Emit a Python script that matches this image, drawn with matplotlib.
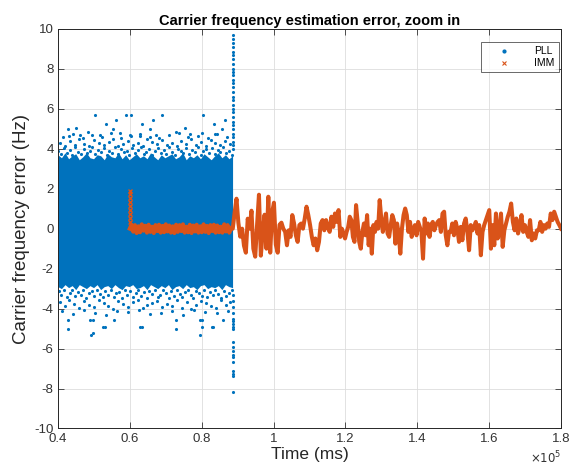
import matplotlib.pyplot as plt
import numpy as np
from matplotlib.lines import Line2D

plt.rcParams['font.family'] = ['Liberation Sans', 'DejaVu Sans']
plt.rcParams['axes.unicode_minus'] = False

blue = '#0072BD'
orange = '#D95319'

# time axis is in units of 1e5 ms
# PLL: the dense core is read as an envelope, the edge dots as rows, plus lone outliers
pll_start, pll_end = 0.40, 0.886
core_top = [3.7, 3.55, 3.8, 3.5, 3.65, 3.75, 3.45, 3.6, 3.8, 3.55, 3.5, 3.7, 3.65, 3.45, 3.75, 3.6,
            3.55, 3.8, 3.5, 3.7, 3.45, 3.6, 3.75, 3.55, 3.65, 3.5, 3.8, 3.6, 3.45, 3.7, 3.55, 3.65,
            3.75, 3.5, 3.6, 3.8, 3.45, 3.65, 3.55, 3.7, 3.5, 3.75, 3.6, 3.45, 3.65, 3.8, 3.55, 3.7,
            3.5, 3.65]
core_bot = [-2.9, -3.0, -2.8, -2.95, -2.85, -3.05, -2.8, -2.9, -3.0, -2.85, -2.95, -2.8, -3.05,
            -2.9, -2.85, -3.0, -2.8, -2.95, -3.05, -2.85, -2.9, -2.8, -3.0, -2.95, -2.85, -3.05,
            -2.8, -2.9, -3.0, -2.85, -2.95, -2.8, -3.05, -2.9, -2.85, -3.0, -2.8, -2.95, -2.9,
            -3.05, -2.85, -2.8, -3.0, -2.9, -2.95, -2.85, -3.05, -2.8, -2.9, -2.95]
fringe_hi = [3.9, 3.75, 4.05, 3.8, 3.95, 3.7, 4.1, 3.85, 3.75, 4.0, 3.8, 3.9, 4.1, 3.75, 3.95, 3.85,
             4.05, 3.7, 3.9, 3.8, 4.1, 3.75, 4.0, 3.85, 3.9, 3.7, 4.05, 3.8, 3.95, 4.1, 3.75, 3.85,
             4.0, 3.7, 3.9, 4.05, 3.8, 3.95, 3.75, 4.1, 3.85, 3.7, 4.0, 3.9, 3.8, 4.05, 3.75, 3.95,
             3.85, 4.1, 3.7, 3.9, 4.0, 3.8, 4.05, 3.75, 3.95, 3.85, 4.1, 3.8, 3.9, 3.7]
fringe_hi2 = [4.3, 4.15, 4.4, 4.2, 4.5, 4.25, 4.15, 4.45, 4.3, 4.2, 4.35, 4.5, 4.15, 4.25, 4.4,
              4.2, 4.3, 4.15, 4.5, 4.35, 4.25, 4.45, 4.2, 4.3, 4.15, 4.4, 4.25, 4.5, 4.2, 4.35,
              4.15, 4.45, 4.3, 4.2, 4.4, 4.25]
fringe_hi3 = [4.6, 4.75, 4.55, 4.7, 4.6, 4.8, 4.55, 4.65, 4.75, 4.6, 4.55, 4.7, 4.8, 4.6, 4.65,
              4.55, 4.75, 4.6]
fringe_lo = [-3.1, -3.3, -3.05, -3.4, -3.2, -3.05, -3.35, -3.15, -3.3, -3.05, -3.45, -3.2, -3.1,
             -3.35, -3.05, -3.25, -3.4, -3.1, -3.3, -3.05, -3.4, -3.2, -3.15, -3.45, -3.05, -3.3,
             -3.1, -3.4, -3.2, -3.05, -3.35, -3.15, -3.45, -3.1, -3.25, -3.05, -3.4, -3.3, -3.05,
             -3.2, -3.45, -3.1, -3.35, -3.05, -3.25, -3.4, -3.15, -3.05, -3.3, -3.45, -3.1, -3.2,
             -3.35, -3.05, -3.4, -3.15, -3.3, -3.05, -3.25, -3.45, -3.1, -3.35, -3.2, -3.05]
fringe_lo2 = [-3.65, -3.85, -3.55, -3.75, -3.95, -3.6, -3.8, -3.9, -3.55, -3.7, -3.85, -4.0,
              -3.6, -3.75, -3.9, -3.65, -3.55, -3.95, -3.8, -3.7, -3.6, -3.9, -3.75, -3.85,
              -3.55, -3.95, -3.65, -4.0, -3.8, -3.6, -3.7, -3.85, -3.95, -3.55, -3.8, -3.65]
fringe_lo3 = [-4.1, -4.25, -4.05, -4.2, -4.3, -4.1, -4.15, -4.05, -4.25, -4.2, -4.1, -4.3, -4.05,
              -4.15, -4.2, -4.1]
out_t = [0.502, 0.589, 0.603, 0.691, 0.805, 0.535, 0.635, 0.835, 0.563, 0.665, 0.865,
         0.429, 0.451, 0.553, 0.656, 0.753, 0.856,
         0.430, 0.461, 0.484, 0.516, 0.572, 0.600, 0.628, 0.674, 0.730, 0.767, 0.800, 0.837,
         0.428, 0.428, 0.488, 0.498, 0.493, 0.498, 0.526, 0.530, 0.555, 0.628, 0.633, 0.728,
         0.728, 0.795, 0.800, 0.800, 0.795, 0.828, 0.832, 0.860]
out_y = [5.67, 5.67, 5.67, 5.67, 5.67, 5.25, 5.25, 5.25, 5.45, 5.45, 5.45,
         5.0, 5.05, 5.0, 5.0, 5.05, 5.0,
         4.65, 4.7, 4.85, 4.7, 4.8, 4.7, 4.65, 4.7, 4.85, 4.75, 4.8, 4.75,
         -4.56, -5.02, -4.56, -4.56, -5.32, -5.2, -4.9, -4.9, -4.56, -4.9, -4.9, -4.56,
         -5.02, -4.56, -4.56, -4.9, -5.32, -4.9, -4.9, -4.56]
spike_y = [9.7, 9.5, 9.3, 9.1, 8.85, 8.7, 8.5, 8.25, 8.0, 7.85, 7.7, 7.45, 7.3, 7.1, 6.85, 6.6,
           6.45, 6.2, 6.0, 5.85, 5.6, 5.35, 5.2, 5.0, 4.75, 4.6, 4.35, 4.2, 4.0,
           -3.3, -3.6, -3.9, -4.2, -4.51, -4.63, -4.77, -4.9, -5.02, -5.69, -5.94, -6.1, -6.3,
           -6.44, -6.69, -7.11, -7.25, -7.36, -8.15]

# IMM
imm_on = 0.60
imm_jump = [1.9, 1.75, 1.55, 1.35, 1.15, 0.95, 0.75, 0.55, 0.35]
imm_flat = [0.0, 0.2, -0.15, 0.18, -0.22, 0.12, -0.18, 0.22, -0.1, 0.15, -0.2, 0.2, -0.16, 0.1,
            -0.22, 0.18, -0.12, 0.2, -0.2, 0.14, -0.18, 0.22, -0.14, 0.16, -0.2, 0.12, -0.22, 0.2,
            -0.16, 0.18, -0.12, 0.22, -0.2, 0.1, -0.18, 0.2, -0.22, 0.16, -0.14, 0.2, -0.2, 0.12,
            -0.18, 0.22, -0.16, 0.14, -0.22, 0.18, -0.12, 0.2, -0.2, 0.16, -0.18, 0.1, -0.2, 0.22,
            -0.14, 0.18, -0.2, 0.05]
imm_edges = [0.8865, 1.0324, 1.1858, 1.3392, 1.4927, 1.6516, 1.80]
imm_noise = [
    [0.0, 0.8, 1.5, 0.3, -0.4, 0.0, -0.85, -1.2, 0.5, 0.0, 0.9, -1.0, -1.4, 0.2, 1.7, -1.35,
     -0.2, 0.7, -1.0, 1.6, -1.2, 0.8, 1.3, -0.8, -1.2, 0.2, 0.3, 0.0],
    [-0.16, -0.83, -0.08, -0.41, 0.68, 0.26, -0.33, -0.66, 0.18, 0.26, 0.0, 0.51, 1.1, 0.68,
     0.18, -0.41, -0.83, -0.49, -1.08, -0.66, 0.26, 0.43, -0.08, 0.43, 0.09, -0.16, 0.6, 0.09,
     0.76, 0.34, 0.93],
    [-0.41, 0.0, -0.24, -0.49, -0.16, 0.09, 0.6, 0.43, -0.41, -0.66, 1.18, 0.34, -0.66, -1.0,
     -0.16, 0.26, -0.33, 0.68, -0.83, 0.0, -1.25, 0.18, -0.16, 0.34, 0.0, 1.43, 0.51, -0.16,
     0.26, 0.76, -0.24, -0.41, 0.18, 0.68, 0.43],
    [-0.75, 0.26, -0.24, -1.25, 0.0, 0.68, 1.01, 0.68, -0.16, 0.34, -0.41, -0.08, 0.18, -0.33,
     0.34, 0.09, -0.16, -1.5, 0.51, -0.24, 0.26, -0.41, 0.18, 0.34, -0.08, 0.18, 0.34, 0.43,
     -0.16, 0.76, 0.85, -0.33, -0.83, -0.16],
    [-0.16, 0.26, -0.33, 0.34, 0.0, -0.66, 0.09, -0.58, 0.26, 0.51, -0.16, -1.08, 0.18, -0.08,
     0.09, 0.34, -0.24, 0.18, -1.33, -0.16, 0.18, 0.43, 0.68, 0.93, -1.0, 0.18, -0.83, 0.76,
     -0.49, -0.24, 0.76, -0.91, -0.08, 0.26],
    [0.59, 0.85, 1.26, 0.34, -0.08, 0.51, -0.24, 0.09, 0.68, -0.16, 0.18, -0.16, -0.41, 0.43,
     -0.58, -0.24, -0.49, -0.08, -0.08, 0.34, -0.16, 0.18, 0.0, 0.26, 0.09, 0.76, 0.43, 0.85,
     0.59, 0.34, 0.18, 0.0],
]

fig = plt.figure(figsize=(5.79, 4.69), dpi=100)
ax = fig.add_axes([0.100, 0.0864, 0.869, 0.852])

# PLL
t_core = np.linspace(pll_start, pll_end, len(core_top))
ax.fill_between(t_core, core_bot, core_top, color=blue, lw=0, zorder=2)
for row, t0, t1 in [(fringe_hi, 0.401, 0.884), (fringe_hi2, 0.406, 0.879), (fringe_hi3, 0.415, 0.87),
                    (fringe_lo, 0.402, 0.884), (fringe_lo2, 0.405, 0.88), (fringe_lo3, 0.412, 0.872)]:
    ax.plot(np.linspace(t0, t1, len(row)), row, '.', color=blue, ms=4.5, mew=0, zorder=2)
ax.plot(out_t, out_y, '.', color=blue, ms=4.5, mew=0, zorder=2)
ax.plot([pll_end] * len(spike_y), spike_y, '.', color=blue, ms=4.5, mew=0, zorder=2)

# IMM: one curve from the switch-on time to the end
t_imm = [np.linspace(imm_on, imm_edges[0], len(imm_flat), endpoint=False)]
y_imm = [imm_flat]
for i, seg in enumerate(imm_noise):
    last = i == len(imm_noise) - 1
    t_imm.append(np.linspace(imm_edges[i], imm_edges[i + 1], len(seg), endpoint=last))
    y_imm.append(seg)
t_imm = np.concatenate(t_imm)
y_imm = np.concatenate(y_imm)
ax.plot([imm_on] * len(imm_jump), imm_jump, 'x', color=orange, ms=2.5, mew=1, zorder=3)
ax.plot(t_imm, y_imm, '-', color=orange, lw=2.9, zorder=3)

ax.set_xlim(0.4, 1.8)
ax.set_ylim(-10, 10)
ax.set_xticks(np.arange(0.4, 1.81, 0.2))
ax.set_yticks(np.arange(-10, 11, 2))
ax.set_xticklabels(['0.4', '0.6', '0.8', '1', '1.2', '1.4', '1.6', '1.8'])
ax.grid(True, color='#dddddd', lw=0.6)
ax.set_axisbelow(True)
ax.tick_params(direction='in', length=4, width=0.6, top=True, right=True,
               labelsize=9.5, colors='#333333', pad=3)
for s in ax.spines.values():
    s.set_color('#262626')
    s.set_linewidth(0.7)

ax.set_title('Carrier frequency estimation error, zoom in', fontsize=10.5, fontweight='bold',
             color='#000000', pad=3)
ax.set_xlabel('Time (ms)', fontsize=12.5, color='#262626', labelpad=2)
ax.set_ylabel('Carrier frequency error (Hz)', fontsize=13.5, color='#262626', labelpad=3)
ax.annotate(r'$\times10^5$', xy=(1.0, -0.075), xycoords='axes fraction', ha='right', va='center',
            fontsize=8.5, color='#333333')

handles = [Line2D([], [], ls='none', marker='.', ms=4, color=blue),
           Line2D([], [], ls='none', marker='x', ms=2.5, mew=0.8, color=orange)]
leg = ax.legend(handles, ['PLL', 'IMM'], loc='upper right', bbox_to_anchor=(0.996, 0.967),
                borderaxespad=0, fontsize=7.5, frameon=True, fancybox=False, handlelength=3.5,
                handletextpad=1.2, borderpad=0.4, labelspacing=0.2)
leg.get_frame().set_edgecolor('#262626')
leg.get_frame().set_linewidth(0.6)

fig.savefig('out.png', dpi=100)
